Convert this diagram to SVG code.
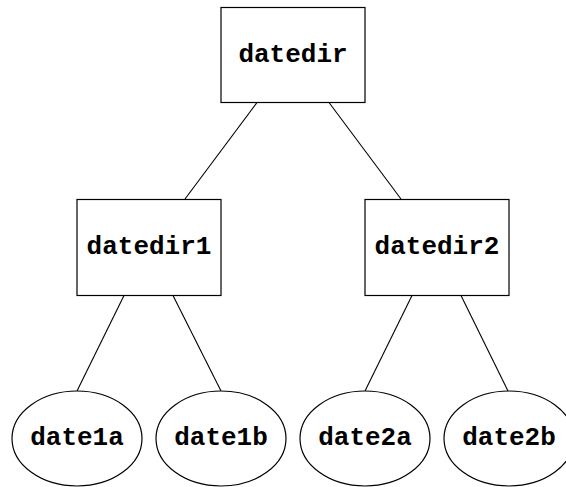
<svg xmlns="http://www.w3.org/2000/svg" width="566" height="487" viewBox="0 0 566 487">
<style>
.n{fill:#fff;stroke:#000;stroke-width:1.2}
.t{font-family:"Liberation Mono","Courier New",monospace;font-weight:bold;font-size:26px;text-anchor:middle;fill:#000}
.e{stroke:#000;stroke-width:1.1;fill:none}
</style>
<rect width="566" height="487" fill="#fff"/>
<g id="edges">
<line class="e" x1="257" y1="102.5" x2="185" y2="199"/>
<line class="e" x1="329" y1="102.5" x2="401" y2="199"/>
<line class="e" x1="124" y1="295.5" x2="77" y2="391"/>
<line class="e" x1="173" y1="295.5" x2="221" y2="391"/>
<line class="e" x1="412" y1="295.5" x2="365" y2="391"/>
<line class="e" x1="461" y1="295.5" x2="508" y2="391"/>
</g>
<g id="datedir"><rect class="n" x="221" y="7.5" width="144" height="95"/><text class="t" x="293" y="62">datedir</text></g>
<g id="datedir1"><rect class="n" x="77" y="199.5" width="144" height="96"/><text class="t" x="149" y="254">datedir1</text></g>
<g id="datedir2"><rect class="n" x="365" y="199.5" width="144" height="96"/><text class="t" x="437" y="254">datedir2</text></g>
<g id="date1a"><ellipse class="n" cx="77" cy="438.5" rx="65" ry="47.5"/><text class="t" x="77" y="445">date1a</text></g>
<g id="date1b"><ellipse class="n" cx="221" cy="438.5" rx="65" ry="47.5"/><text class="t" x="221" y="445">date1b</text></g>
<g id="date2a"><ellipse class="n" cx="365" cy="438.5" rx="65" ry="47.5"/><text class="t" x="365" y="445">date2a</text></g>
<g id="date2b"><ellipse class="n" cx="509" cy="438.5" rx="65" ry="47.5"/><text class="t" x="509" y="445">date2b</text></g>
</svg>
